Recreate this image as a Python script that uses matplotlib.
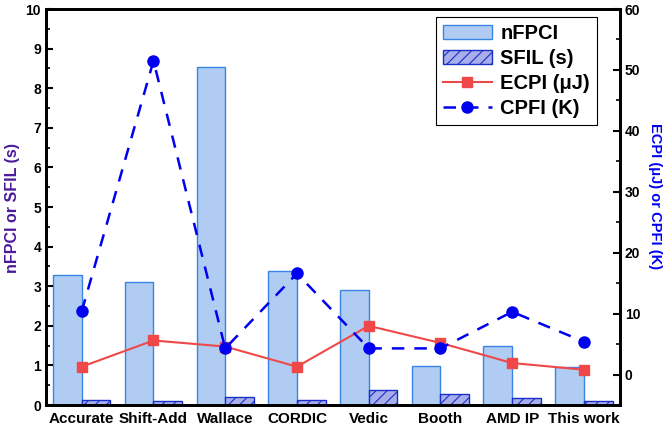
import matplotlib
matplotlib.use("Agg")
import matplotlib.pyplot as plt
import numpy as np
from matplotlib.ticker import MultipleLocator

plt.rcParams['font.family'] = ['Liberation Sans', 'DejaVu Sans']
plt.rcParams['font.weight'] = 'bold'
plt.rcParams['hatch.linewidth'] = 0.8

categories = ["Accurate", "Shift-Add", "Wallace", "CORDIC", "Vedic", "Booth", "AMD IP", "This work"]
nfpci = [3.28, 3.11, 8.54, 3.39, 2.90, 0.99, 1.50, 0.97]
sfil = [0.13, 0.09, 0.21, 0.12, 0.37, 0.27, 0.17, 0.10]
ecpi = [1.3, 5.6, 4.6, 1.3, 8.0, 5.2, 1.9, 0.8]
cpfi = [10.4, 51.5, 4.3, 16.6, 4.3, 4.3, 10.3, 5.4]

x = np.arange(len(categories))
w = 0.4

fig = plt.figure(figsize=(6.65, 4.3), dpi=100)
ax = fig.add_axes([0.069, 0.058, 0.863, 0.921])
ax2 = ax.twinx()

b1 = ax.bar(x - w / 2, nfpci, w, color='#b0ccf2', edgecolor='#3a84e6', linewidth=1.0, label='nFPCI')
b2 = ax.bar(x + w / 2, sfil, w, color='#a8aeea', edgecolor='#1a2fc8', linewidth=1.0,
            hatch='///', label='SFIL (s)')

l1, = ax2.plot(x, ecpi, color='#f04848', linewidth=1.5, marker='s', markersize=7,
               label='ECPI (\u03bcJ)')
l2, = ax2.plot(x, cpfi, color='#0000f0', linewidth=1.8, linestyle=(0, (5, 4)),
               marker='o', markersize=8, label='CPFI (K)')

ax.set_xlim(-0.5, 7.5)
ax.set_ylim(0, 10)
ax2.set_ylim(-5, 60)
ax.yaxis.set_major_locator(MultipleLocator(1))
ax.yaxis.set_minor_locator(MultipleLocator(0.5))
ax2.yaxis.set_major_locator(MultipleLocator(10))
ax2.yaxis.set_minor_locator(MultipleLocator(5))
ax2.set_yticks(range(0, 61, 10))

ax.set_xticks(x)
ax.set_xticklabels(categories, fontsize=11, fontweight='bold')
ax.tick_params(axis='x', length=0, pad=5)
ax.tick_params(axis='y', which='major', direction='in', length=5, width=1.5, labelsize=10)
ax.tick_params(axis='y', which='minor', direction='in', length=3, width=1.2)
ax2.tick_params(axis='y', which='major', direction='in', length=5, width=1.5, labelsize=10)
ax2.tick_params(axis='y', which='minor', direction='in', length=3, width=1.2)
for lab in ax.get_yticklabels() + ax2.get_yticklabels():
    lab.set_fontweight('bold')

for a in (ax, ax2):
    for s in a.spines.values():
        s.set_linewidth(2)

ax.set_ylabel('nFPCI or SFIL (s)', color='#4a1a9a', fontsize=11.5, fontweight='bold')
ax.yaxis.set_label_coords(-0.045, 0.497)
ax2.set_ylabel('ECPI (\u03bcJ) or CPFI (K)', color='#0000f0', fontsize=10.5, fontweight='bold',
               rotation=270)
ax2.yaxis.set_label_coords(1.073, 0.528)

leg = ax2.legend(handles=[b1, b2, l1, l2], loc='upper right',
                 prop={'weight': 'bold', 'size': 14.5}, fancybox=False, edgecolor='black',
                 framealpha=1, handlelength=2.45, handleheight=0.75, handletextpad=0.4,
                 labelspacing=0.3, borderpad=0.35, borderaxespad=0,
                 bbox_to_anchor=(0.96, 0.98))
leg.get_frame().set_linewidth(0.8)

fig.savefig('out.png', dpi=100)
